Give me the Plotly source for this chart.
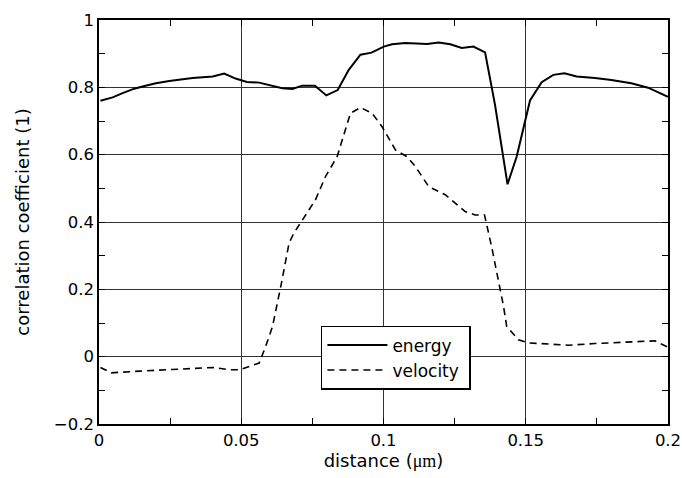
import plotly.graph_objects as go

energy_x = [0.0005, 0.0048, 0.0083, 0.0124, 0.016, 0.020, 0.0247, 0.0288, 0.0329, 0.040, 0.044,
            0.048, 0.052, 0.0563, 0.0604, 0.0644, 0.068, 0.0714, 0.0759, 0.0799, 0.0839, 0.0878,
            0.0919, 0.0958, 0.1001, 0.103, 0.1077, 0.1153, 0.1194, 0.1235, 0.1275, 0.1316, 0.1357,
            0.1392, 0.1436, 0.1468, 0.1515, 0.1556, 0.1597, 0.1636, 0.1679, 0.1743, 0.1801, 0.1871,
            0.193, 0.2]
energy_y = [0.76, 0.77, 0.783, 0.796, 0.804, 0.812, 0.819, 0.824, 0.828, 0.832, 0.841,
            0.826, 0.816, 0.814, 0.805, 0.797, 0.795, 0.805, 0.805, 0.776, 0.792, 0.852,
            0.897, 0.903, 0.921, 0.928, 0.932, 0.929, 0.933, 0.928, 0.917, 0.921, 0.904,
            0.748, 0.512, 0.594, 0.761, 0.815, 0.837, 0.842, 0.832, 0.828, 0.822, 0.812,
            0.799, 0.772]

velocity_x = [0.0005, 0.0043, 0.0142, 0.0259, 0.040, 0.0458, 0.0493, 0.0528, 0.0563, 0.0586,
              0.061, 0.0639, 0.0668, 0.0685, 0.0714, 0.0761, 0.0796, 0.0837, 0.0855, 0.0884,
              0.0919, 0.096, 0.0995, 0.1042, 0.1083, 0.1112, 0.1159, 0.1217, 0.1252, 0.1287,
              0.1322, 0.1355, 0.138, 0.1404, 0.1422, 0.1433, 0.1474, 0.1509, 0.1591, 0.165,
              0.1743, 0.186, 0.1954, 0.2]
velocity_y = [-0.032, -0.048, -0.043, -0.038, -0.032, -0.039, -0.039, -0.029, -0.019, 0.031,
              0.09, 0.209, 0.337, 0.367, 0.406, 0.466, 0.535, 0.594, 0.644, 0.723,
              0.740, 0.723, 0.683, 0.614, 0.594, 0.565, 0.505, 0.481, 0.456, 0.431,
              0.421, 0.421, 0.327, 0.228, 0.149, 0.090, 0.050, 0.041, 0.038, 0.034,
              0.039, 0.044, 0.047, 0.028]

x_ticks = [0, 0.05, 0.1, 0.15, 0.2]
x_tick_labels = ["0", "0.05", "0.1", "0.15", "0.2"]
y_ticks = [-0.2, 0, 0.2, 0.4, 0.6, 0.8, 1]
y_tick_labels = ["\u22120.2", "0", "0.2", "0.4", "0.6", "0.8", "1"]

font = "DejaVu Sans, Verdana, sans-serif"

fig = go.Figure()
fig.add_trace(go.Scatter(x=energy_x, y=energy_y, mode="lines", name="energy",
                         line=dict(color="black", width=2)))
fig.add_trace(go.Scatter(x=velocity_x, y=velocity_y, mode="lines", name="velocity\u00a0",
                         line=dict(color="black", width=1.6, dash="7px,5px")))

axis_common = dict(showline=True, linecolor="black", linewidth=1.5, mirror="ticks",
                   ticks="inside", tickcolor="black", ticklen=6, zeroline=False,
                   tickfont=dict(family=font, size=16.5, color="black"),
                   showgrid=True, gridcolor="#333333", gridwidth=1, automargin=False,
                   ticklabeloverflow="allow")

fig.update_xaxes(range=[0, 0.2], tickvals=x_ticks, ticktext=x_tick_labels,
                 minor=dict(tickvals=[0.025, 0.075, 0.125, 0.175], ticks="inside",
                            ticklen=6, tickcolor="black", showgrid=False),
                 title=dict(text='distance (<span style="font-family:Liberation Serif, Times New Roman, serif">\u03bcm</span>)',
                            font=dict(family=font, size=18, color="black"), standoff=6),
                 **axis_common)
fig.update_yaxes(range=[-0.2, 1], tickvals=y_ticks, ticktext=y_tick_labels,
                 minor=dict(tickvals=[-0.1, 0.1, 0.3, 0.5, 0.7, 0.9], ticks="inside",
                            ticklen=6, tickcolor="black", showgrid=False),
                 title=dict(text="correlation coefficient (1)",
                            font=dict(family=font, size=18, color="black"), standoff=20),
                 **axis_common)

fig.update_layout(
    width=682, height=478,
    margin=dict(l=99, r=14, t=20, b=54),
    paper_bgcolor="white", plot_bgcolor="white",
    showlegend=True,
    legend=dict(x=0.39, y=0.243, xanchor="left", yanchor="top",
                bgcolor="white", bordercolor="black", borderwidth=1.5,
                font=dict(family=font, size=17, color="black"),
                itemwidth=60, tracegroupgap=0),
)

fig.write_html("out.html")
